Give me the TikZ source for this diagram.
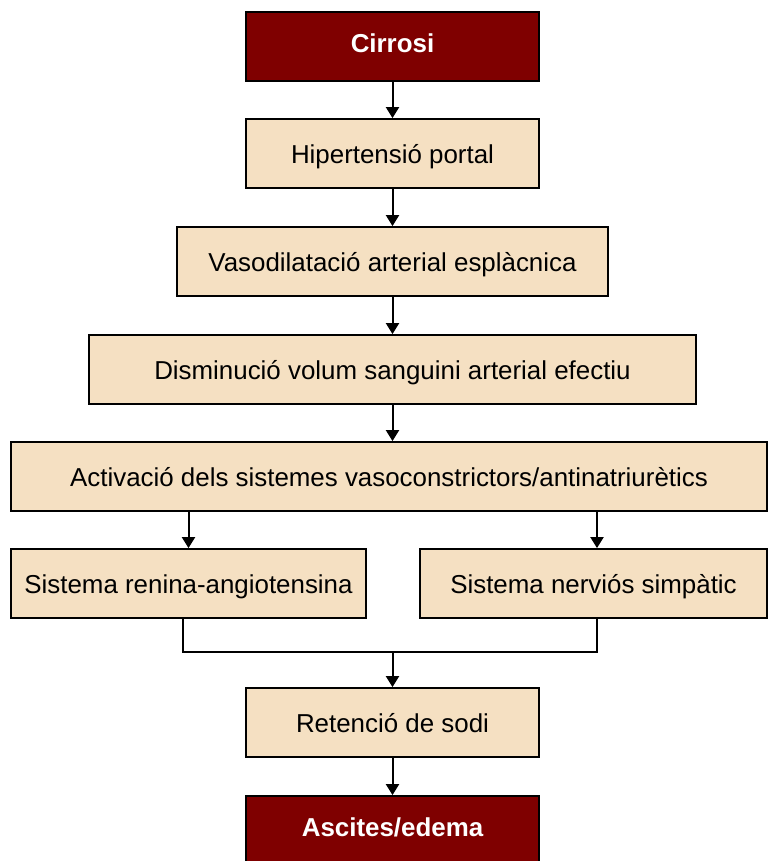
\documentclass[tikz,border=0pt]{standalone}
\usepackage{fontspec}
\setmainfont{Liberation Sans}
\usetikzlibrary{arrows.meta}
\definecolor{boxfill}{HTML}{F5E0C2}
\definecolor{darkred}{HTML}{7F0000}
\tikzset{
  x=1pt, y=-1pt,
  stepbox/.style={draw=black, line width=1.8pt, fill=boxfill, inner sep=0pt,
    font=\fontsize{25.9}{30}\selectfont, text=black, text height=23pt, text depth=3pt},
  endbox/.style={stepbox, fill=darkred, text=white, text height=15.4pt, text depth=3pt,
    font=\fontsize{25.9}{30}\selectfont\bfseries},
  conn/.style={line width=2pt, draw=black},
  arr/.style={conn, -{Triangle[width=13pt,length=11pt]}}
}
\begin{document}
\begin{tikzpicture}
\useasboundingbox (0,0) rectangle (768,861);
\clip (0,0) rectangle (768,861);
\node[endbox, minimum width=293pt, minimum height=69pt] (cir) at (392.5,46.5) {Cirrosi};
\node[stepbox, minimum width=293pt, minimum height=69pt] (hip) at (392.5,153.5) {Hipertensió portal};
\node[stepbox, minimum width=431pt, minimum height=69pt] (vas) at (392.5,261.5) {Vasodilatació arterial esplàcnica};
\node[stepbox, minimum width=607pt, minimum height=69pt] (dis) at (392.5,369.5) {Disminució volum sanguini arterial efectiu};
\node[stepbox, minimum width=756pt, minimum height=69pt] (act) at (389,476.5) {Activació dels sistemes vasoconstrictors/antinatriurètics};
\node[stepbox, minimum width=355pt, minimum height=69pt] (ra) at (188.5,583.5) {Sistema renina-angiotensina};
\node[stepbox, minimum width=347pt, minimum height=69pt] (sns) at (593.5,583.5) {Sistema nerviós simpàtic};
\node[stepbox, minimum width=293pt, minimum height=69pt] (ret) at (392.5,722.5) {Retenció de sodi};
\node[endbox, minimum width=293pt, minimum height=69pt] (asc) at (392.5,830.5) {Ascites/edema};
\coordinate (m) at (392.5,651.5);
\draw[arr] (cir) -- (hip);
\draw[arr] (hip) -- (vas);
\draw[arr] (vas) -- (dis);
\draw[arr] (dis.south) -- (dis.south |- act.north);
\draw[arr] (act.south -| ra.north) -- (ra.north);
\draw[arr] ([xshift=3.5pt]act.south -| sns.north) -- ([xshift=3.5pt]sns.north);
\draw[conn] ([xshift=-5.5pt]ra.south) |- (m) -| ([xshift=3.5pt]sns.south);
\draw[arr] (m) -- (ret);
\draw[arr] (ret) -- (asc);
\end{tikzpicture}
\end{document}
